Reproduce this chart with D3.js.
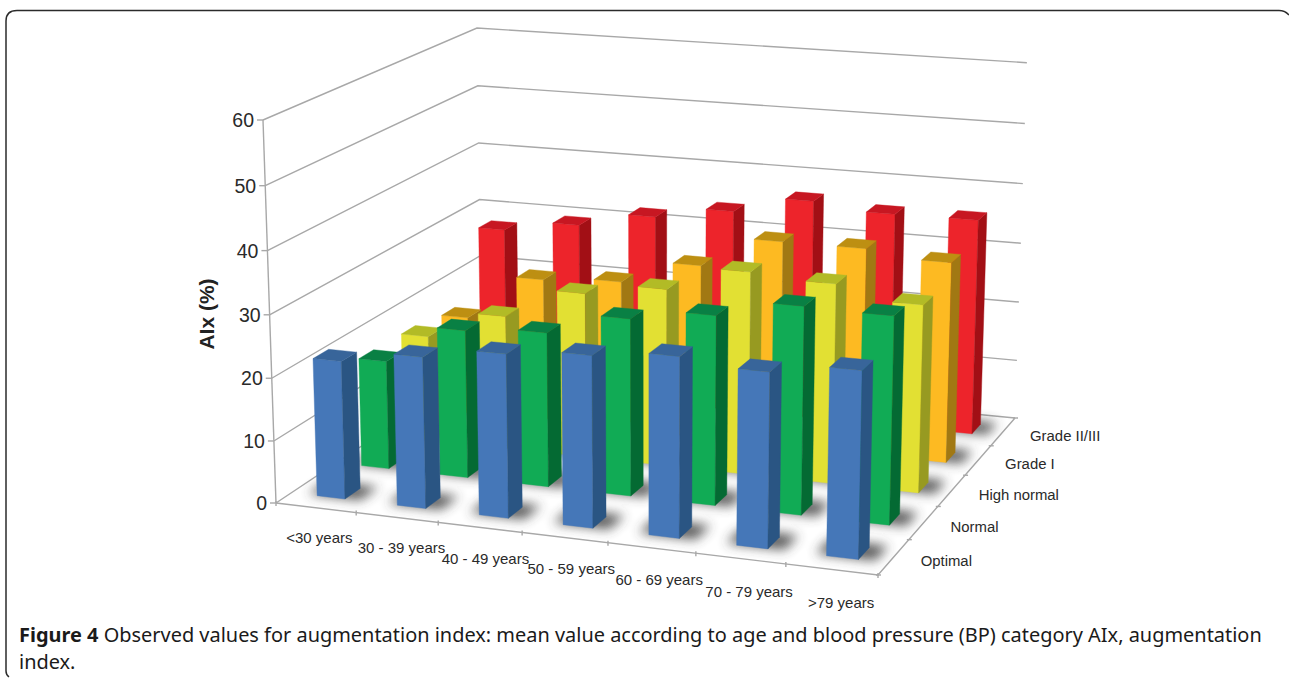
<!DOCTYPE html>
<html><head><meta charset="utf-8">
<script src="https://d3js.org/d3.v7.min.js"></script>
<style>html,body{margin:0;padding:0;background:#fff}svg{display:block}</style>
</head><body><svg id="c" width="1289" height="678"></svg>
<script>
const categories=["<30 years","30 - 39 years","40 - 49 years","50 - 59 years","60 - 69 years","70 - 79 years",">79 years"];
const seriesNames=["Optimal","Normal","High normal","Grade I","Grade II/III"];
const optimal=[22.1,24.1,25.9,27,28.2,27.2,28.8];
const normal=[17.7,24,24.9,28.4,30.2,32.9,32.7];
const highNormal=[17.5,22.1,27.1,29,33,32.3,30.2];
const gradeI=[16.5,24.2,25,28.9,34,34,32.9];
const gradeII=[27.8,29.7,32.2,34.2,37,35.9,36];
const yTicks=[0,10,20,30,40,50,60];
const seriesValues=[optimal,normal,highNormal,gradeI,gradeII];
const palette=[
 {front:"#4577B8",side:"#2A5583",top:"#38659A"},
 {front:"#11AB55",side:"#046A33",top:"#098044"},
 {front:"#E2E033",side:"#979A21",top:"#B2BB26"},
 {front:"#FDBA22",side:"#A17813",top:"#BD8F12"},
 {front:"#ED242B",side:"#A20F15",top:"#C71722"}];

// floor corners on screen, top of front-left edge, and vanishing point of the verticals
const FL0=[276,503],FR0=[878,575],BR0=[1015,418],BL0=[482,366],FL1=[263,120],VP=[647,11433];
function buildProjection(){
 const [x0,y0]=FL0,[x1,y1]=FR0,[x2,y2]=BR0,[x3,y3]=BL0;
 const dx1=x1-x2,dx2=x3-x2,dy1=y1-y2,dy2=y3-y2,sx=x0-x1+x2-x3,sy=y0-y1+y2-y3;
 const den=dx1*dy2-dx2*dy1;
 const g=(sx*dy2-dx2*sy)/den,h=(dx1*sy-sx*dy1)/den;
 const a=x1-x0+g*x1,b=x3-x0+h*x3,c=x0,d=y1-y0+g*y1,e=y3-y0+h*y3,f=y0;
 const k=(y0-FL1[1])/(VP[1]-FL1[1]);
 return (u,v,w0)=>{const w=w0*(1+0.006*v-0.017*u);const D=g*u+h*v-k*w+1;return [(a*u+b*v-k*VP[0]*w+c)/D,(d*u+e*v-k*VP[1]*w+f)/D];};
}
const project=buildProjection();

const uScale=d3.scaleBand().domain(d3.range(categories.length)).range([0,1]);
const vScale=d3.scaleBand().domain(d3.range(seriesNames.length)).range([0,1]);
const wScale=d3.scaleLinear().domain([0,60]).range([0,1]);
const barW=0.35,barD=0.34;

const svg=d3.select("#c");
const defs=svg.append("defs");
defs.append("filter").attr("id","shadow").attr("x","-50%").attr("y","-50%").attr("width","200%").attr("height","200%")
 .append("feGaussianBlur").attr("stdDeviation",6);

const line=d3.line();
const GRID="#a8a8a8";
const g=svg.append("g");

// frame (right and bottom sides run off the page)
g.append("path").attr("d","M9,677 Q6,675 6,671 L6,21 Q6,10.5 17,10.5 L1279,10.5 Q1285,10.5 1289,15")
 .attr("fill","none").attr("stroke","#2b2b2b").attr("stroke-width",1.5);

// floor edges and gridlines
const gridG=g.append("g").attr("fill","none").attr("stroke",GRID).attr("stroke-width",1.4);
yTicks.forEach(t=>{const w=wScale(t);
 gridG.append("path").attr("d",line([project(0,0,w),project(0,1,w),project(1,1,w)]));
});
gridG.append("path").attr("d",line([project(0,0,0),project(0,0,1)]));
gridG.append("path").attr("d",line([project(0,0,0),project(1,0,0),project(1,1,0)]));
yTicks.forEach(t=>{const p=project(0,0,wScale(t));
 gridG.append("path").attr("d",line([[p[0]-6,p[1]],p]));
 g.append("text").attr("x",p[0]-9).attr("y",p[1]+7).attr("text-anchor","end")
  .attr("font-family","Liberation Sans").attr("font-size",19.5).attr("fill","#2a2a2a").text(t);
});
d3.range(categories.length+1).forEach(i=>{
 const p=project(i/categories.length,0,0);
 gridG.append("path").attr("d",line([[p[0],p[1]-2],[p[0],p[1]+3]]));
});
categories.forEach((c,i)=>{
 const p=project(uScale(i)+uScale.bandwidth()/2,0,0);
 g.append("text").attr("x",p[0]+3.5+i).attr("y",p[1]+35+i*0.6).attr("text-anchor","middle")
  .attr("font-family","Liberation Sans").attr("font-size",15).attr("fill","#2a2a2a").text(c);
});
d3.range(seriesNames.length+1).forEach(i=>{
 const p=project(1,i/seriesNames.length,0);
 gridG.append("path").attr("d",line([[p[0]-2,p[1]],[p[0]+3,p[1]]]));
});
seriesNames.forEach((s,i)=>{
 const p=project(1,vScale(i)+vScale.bandwidth()/2,0);
 g.append("text").attr("x",p[0]+27).attr("y",p[1]+9)
  .attr("font-family","Liberation Sans").attr("font-size",14.9).attr("fill","#2a2a2a").text(s);
});
g.append("text").attr("transform","translate(214,314) rotate(-90)").attr("text-anchor","middle")
 .attr("font-family","Liberation Sans").attr("font-weight","bold").attr("font-size",21).attr("fill","#222").text("AIx (%)");

// bars: back row first
const rows=d3.range(seriesNames.length).reverse();
const shadowG=g.append("g").attr("filter","url(#shadow)").attr("fill","#3a3a3a").attr("opacity",0.85);
const bars=g.append("g");
rows.forEach(r=>{
 seriesValues[r].forEach((val,i)=>{
  const uw=uScale.bandwidth()*barW, vw=vScale.bandwidth()*barD;
  const u0=uScale(i)+(uScale.bandwidth()-uw)/2,u1=u0+uw;
  const v0=vScale(r)+(vScale.bandwidth()-vw)/2,v1=v0+vw;
  const w=wScale(val);
  const poly=(pts,fill)=>bars.append("path").attr("d",line(pts.map(q=>project(...q)))+"Z").attr("fill",fill).attr("stroke",fill).attr("stroke-width",0.4);
  shadowG.append("path").attr("d",line([[u0-0.018,v0+0.005,0],[u1+0.025,v0+0.005,0],[u1+0.025,v1+0.02,0],[u0-0.018,v1+0.02,0]].map(q=>project(...q)))+"Z");
  poly([[u0,v0,0],[u1,v0,0],[u1,v0,w],[u0,v0,w]],palette[r].front);
  poly([[u1,v0,0],[u1,v1,0],[u1,v1,w],[u1,v0,w]],palette[r].side);
  poly([[u0,v0,w],[u1,v0,w],[u1,v1,w],[u0,v1,w]],palette[r].top);
 });
});

// caption
const cap=g.append("text").attr("x",19).attr("y",642).attr("font-family","Noto Sans").attr("font-size",19.96).attr("fill","#1a1a1a");
cap.append("tspan").attr("font-weight","bold").text("Figure 4");
cap.append("tspan").text(" Observed values for augmentation index: mean value according to age and blood pressure (BP) category AIx, augmentation");
g.append("text").attr("x",19).attr("y",669).attr("font-family","Noto Sans").attr("font-size",19.96).attr("fill","#1a1a1a").text("index.");
</script></body></html>
